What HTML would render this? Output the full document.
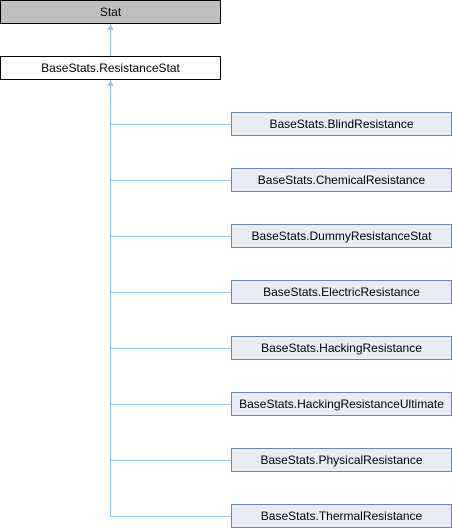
<!DOCTYPE html>
<html><head><meta charset="utf-8"><style>
html,body{margin:0;padding:0;background:#fff;width:452px;height:528px;overflow:hidden}
svg{display:block}
text{font-family:"Liberation Sans",sans-serif;font-size:12px;fill:#000}
</style></head><body>
<svg width="452" height="528" viewBox="0 0 452 528" xmlns="http://www.w3.org/2000/svg">
<g stroke="#8cc6ea" stroke-width="1" fill="none">
<line x1="110.5" y1="30" x2="110.5" y2="56"/>
<line x1="110.5" y1="86" x2="110.5" y2="516.5"/>
<line x1="110.5" y1="124.5" x2="231" y2="124.5"/>
<line x1="110.5" y1="180.5" x2="231" y2="180.5"/>
<line x1="110.5" y1="236.5" x2="231" y2="236.5"/>
<line x1="110.5" y1="292.5" x2="231" y2="292.5"/>
<line x1="110.5" y1="348.5" x2="231" y2="348.5"/>
<line x1="110.5" y1="404.5" x2="231" y2="404.5"/>
<line x1="110.5" y1="460.5" x2="231" y2="460.5"/>
<line x1="110.5" y1="516.5" x2="231" y2="516.5"/>
</g>
<g fill="#8cc6ea">
<polygon points="110.5,24 107.5,30 113.5,30"/>
<polygon points="110.5,80 107.5,86 113.5,86"/>
</g>
<rect x="0.5" y="0.5" width="220" height="23" fill="#bfbfbf" stroke="#000"/>
<text x="110.5" y="16" text-anchor="middle">Stat</text>
<rect x="0.5" y="56.5" width="220" height="23" fill="#fff" stroke="#000"/>
<text x="110.5" y="72" text-anchor="middle">BaseStats.ResistanceStat</text>
<g fill="#e8ecf5" stroke="#6a82b8">
<rect x="231.5" y="112.5" width="220" height="23"/>
<rect x="231.5" y="168.5" width="220" height="23"/>
<rect x="231.5" y="224.5" width="220" height="23"/>
<rect x="231.5" y="280.5" width="220" height="23"/>
<rect x="231.5" y="336.5" width="220" height="23"/>
<rect x="231.5" y="392.5" width="220" height="23"/>
<rect x="231.5" y="448.5" width="220" height="23"/>
<rect x="231.5" y="504.5" width="220" height="23"/>
</g>
<g text-anchor="middle">
<text x="341.5" y="128">BaseStats.BlindResistance</text>
<text x="341.5" y="184">BaseStats.ChemicalResistance</text>
<text x="341.5" y="240">BaseStats.DummyResistanceStat</text>
<text x="341.5" y="296">BaseStats.ElectricResistance</text>
<text x="341.5" y="352">BaseStats.HackingResistance</text>
<text x="341.5" y="408">BaseStats.HackingResistanceUltimate</text>
<text x="341.5" y="464">BaseStats.PhysicalResistance</text>
<text x="341.5" y="520">BaseStats.ThermalResistance</text>
</g>
</svg>
</body></html>
